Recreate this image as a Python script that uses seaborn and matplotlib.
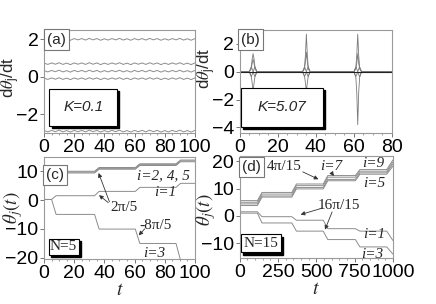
import pandas as pd
import seaborn as sns
import matplotlib.pyplot as plt
from matplotlib.patches import Rectangle

# (a) K=0.1 : nearly constant frequencies with a small ripple
t_a = [0, 2.5, 5, 7.5, 10, 12.5, 15, 17.5, 20, 22.5, 25, 27.5, 30, 32.5, 35, 37.5, 40,
       42.5, 45, 47.5, 50, 52.5, 55, 57.5, 60, 62.5, 65, 67.5, 70, 72.5, 75, 77.5, 80,
       82.5, 85, 87.5, 90, 92.5, 95, 97.5, 100]
ripple_a = [0.03, -0.04, 0.04, -0.03, 0.05, -0.04, 0.03, -0.05, 0.04, -0.03, 0.04, -0.04,
            0.05, -0.03, 0.04, -0.05, 0.03, -0.04, 0.04, -0.03, 0.05, -0.04, 0.03, -0.05,
            0.04, -0.03, 0.04, -0.04, 0.05, -0.03, 0.04, -0.05, 0.03, -0.04, 0.04, -0.03,
            0.05, -0.04, 0.03, -0.05, 0.04]
levels_a = [2.0, 0.7, 0.3, -0.1, -2.9]

# (b) K=5.07 : phase slips show up as spikes
t_b = [0, 5, 6, 6.5, 7, 7.5, 8, 9, 33, 34, 34.5, 35, 35.5, 36, 37, 60, 61, 61.5, 62, 62.5, 63, 64, 80]
b_lines = [
    [0, 0, 0.3, 0.9, 1.3, 0.9, 0.3, 0, 0, 0.3, 1.2, 2.7, 1.2, 0.3, 0, 0, 0.3, 1.2, 2.7, 1.2, 0.3, 0, 0],
    [0, 0, 0.2, 0.6, 0.9, 0.6, 0.2, 0, 0, 0.2, 0.7, 1.4, 0.7, 0.2, 0, 0, 0.2, 0.6, 1.3, 0.6, 0.2, 0, 0],
    [0, 0, -0.3, -0.8, -1.4, -0.8, -0.3, 0, 0, -0.3, -0.8, -1.4, -0.8, -0.3, 0, 0, -0.4, -1.5, -3.8, -1.5, -0.4, 0, 0],
    [0, 0, 0.35, 0.2, 0, -0.2, -0.35, 0, 0, 0.35, 0.2, 0, -0.2, -0.35, 0, 0, 0.35, 0.2, 0, -0.2, -0.35, 0, 0],
    [0, 0, -0.35, -0.2, 0, 0.2, 0.35, 0, 0, -0.35, -0.2, 0, 0.2, 0.35, 0, 0, -0.35, -0.2, 0, 0.2, 0.35, 0, 0],
]

# (c) N=5 phases
t_c = [0, 1.5, 3, 5, 8, 33.5, 36.5, 60.5, 63.5, 87.5, 90.5, 100]
c_lines = [
    [8.6, 8.6, 9.4, 9.4, 9.4, 9.4, 10.7, 10.7, 12.0, 12.0, 13.3, 13.3],
    [8.9, 8.9, 9.7, 9.7, 9.7, 9.7, 11.0, 11.0, 12.3, 12.3, 13.6, 13.6],
    [9.2, 9.2, 10.0, 10.0, 10.0, 10.0, 11.3, 11.3, 12.6, 12.6, 13.9, 13.9],
    [0.2, 0.2, 0.2, 0.2, 1.5, 1.5, 3.0, 3.0, 4.4, 4.4, 5.8, 5.8],
    [0.2, 0.2, 0.2, 0.2, -5.0, -5.0, -10.1, -10.1, -15.1, -15.1, -21.0, -21.0],
]

# (d) N=15 phases
t_d = [0, 115, 145, 340, 370, 545, 575, 755, 785, 960, 1000]
d_plateaus = [
    [5.6, 8.6, 11.7, 14.8, 17.0, 20.5],
    [5.0, 8.0, 11.1, 14.2, 16.4, 19.7],
    [4.4, 7.3, 10.4, 13.4, 15.8, 19.0],
    [3.8, 6.9, 9.9, 12.9, 15.3, 18.2],
    [1.5, -0.3, -1.6, -4.7, -5.6, -9.0],
    [1.0, -2.6, -5.6, -8.7, -11.4, -14.0],
]

sns.set_style("ticks")
plt.rcParams["font.family"] = ["Liberation Sans", "DejaVu Sans"]
plt.rcParams["mathtext.fontset"] = "stix"
plt.rcParams["axes.edgecolor"] = "#9a9a9a"
plt.rcParams["axes.linewidth"] = 0.8
plt.rcParams["xtick.color"] = "#777777"
plt.rcParams["ytick.color"] = "#777777"
plt.rcParams["xtick.labelcolor"] = "black"
plt.rcParams["ytick.labelcolor"] = "black"

GRAY = "#8c8c8c"
SERIF = ["Liberation Serif", "DejaVu Serif"]

fig = plt.figure(figsize=(4.36, 3.04), dpi=100)
ax_a = fig.add_axes([0.101, 0.5625, 0.346, 0.339])
ax_b = fig.add_axes([0.550, 0.5625, 0.349, 0.339])
ax_c = fig.add_axes([0.101, 0.148, 0.346, 0.336])
ax_d = fig.add_axes([0.550, 0.151, 0.351, 0.336])


def draw(ax, t, ys, color=GRAY, lw=0.7):
    for y in ys:
        sns.lineplot(x=t, y=y, ax=ax, color=color, lw=lw, estimator=None, sort=False)


def tag(ax, label, x, y):
    ax.text(x, y, label, transform=ax.transAxes, fontsize=11, ha="left", va="top", zorder=6,
            bbox=dict(boxstyle="square,pad=0.2", fc="white", ec="#777777", lw=0.8))


def shadow_box(ax, x0, y0, w, h, label, **kw):
    ax.add_patch(Rectangle((x0 + 0.015, y0 - 0.025), w, h, transform=ax.transAxes,
                           fc="black", ec="black", zorder=5, clip_on=False))
    ax.add_patch(Rectangle((x0, y0), w, h, transform=ax.transAxes,
                           fc="white", ec="black", lw=0.8, zorder=5.5, clip_on=False))
    ax.text(x0 + w / 2, y0 + h / 2, label, transform=ax.transAxes, ha="center",
            va="center", zorder=6, **kw)


# (a)
draw(ax_a, t_a, [[lv + r for r in ripple_a] for lv in levels_a])
ax_a.set_xlim(0, 100)
ax_a.set_ylim(-3.0, 2.5)
ax_a.set_xticks([0, 20, 40, 60, 80, 100])
ax_a.set_yticks([-2, 0, 2])
tag(ax_a, "(a)", 0.02, 0.975)
shadow_box(ax_a, 0.035, 0.07, 0.45, 0.36, "K=0.1", fontsize=11, style="italic")
ax_a.set_ylabel(r"d$\theta_\mathregular{j}$/dt", fontsize=12)
ax_a.yaxis.set_label_coords(-0.146, 0.54)

# (b)
draw(ax_b, t_b, b_lines, color="#7a7a7a", lw=0.6)
sns.lineplot(x=[0, 80], y=[0, 0], ax=ax_b, color="#222222", lw=0.8)
ax_b.set_xlim(0, 80)
ax_b.set_ylim(-4.4, 3.0)
ax_b.set_xticks([0, 20, 40, 60, 80])
ax_b.set_yticks([-4, -2, 0, 2])
tag(ax_b, "(b)", 0.01, 0.975)
shadow_box(ax_b, 0.005, 0.06, 0.54, 0.38, "K=5.07", fontsize=11, style="italic")
ax_b.set_ylabel(r"d$\theta_\mathregular{j}$/dt", fontsize=12)
ax_b.yaxis.set_label_coords(-0.145, 0.63)

# (c)
draw(ax_c, t_c, c_lines)
ax_c.set_xlim(0, 100)
ax_c.set_ylim(-20.5, 15)
ax_c.set_xticks([0, 20, 40, 60, 80, 100])
ax_c.set_yticks([-20, -10, 0, 10])
tag(ax_c, "(c)", 0.015, 0.89)
shadow_box(ax_c, 0.03, 0.04, 0.2, 0.16, "N=5", fontsize=11, family=SERIF)
ax_c.set_ylabel(r"$\theta_j(t)$", fontsize=13.5)
ax_c.yaxis.set_label_coords(-0.128, 0.5)
ax_c.set_xlabel(r"$t$", fontsize=14, labelpad=0)
ann = dict(fontsize=11, family=SERIF, ha="center", va="center")
ax_c.text(79, 8.3, "i=2, 4, 5", style="italic", **ann)
ax_c.text(80, 2.6, "i=1", style="italic", **ann)
ax_c.text(53, -2.5, "2\u03c0/5", **ann)
ax_c.text(74, -8.8, "-8\u03c0/5", **ann)
ax_c.text(73, -18.5, "i=3", style="italic", **ann)
arrow = dict(arrowstyle="-|>", color="#333333", lw=0.6, mutation_scale=6)
ax_c.annotate("", xy=(35.5, 10.3), xytext=(44, -1.5), arrowprops=arrow)
ax_c.annotate("", xy=(35, 2.3), xytext=(44, -1.5), arrowprops=arrow)
ax_c.annotate("", xy=(61.5, -13), xytext=(68, -9.3), arrowprops=arrow)

# (d)
draw(ax_d, t_d, [[p[0], p[0], p[1], p[1], p[2], p[2], p[3], p[3], p[4], p[4], p[5]] for p in d_plateaus])
ax_d.set_xlim(0, 1000)
ax_d.set_ylim(-15.5, 22)
ax_d.set_xticks([0, 250, 500, 750, 1000])
ax_d.set_yticks([-10, 0, 10, 20])
tag(ax_d, "(d)", 0.015, 0.96)
shadow_box(ax_d, 0.008, 0.06, 0.26, 0.175, "N=15", fontsize=11, family=SERIF)
ax_d.set_ylabel(r"$\theta_j(t)$", fontsize=13.5)
ax_d.yaxis.set_label_coords(-0.14, 0.47)
ax_d.set_xlabel(r"$t$", fontsize=14, labelpad=0)
ax_d.text(290, 18.0, "4\u03c0/15", **ann)
ax_d.text(600, 18.0, "i=7", style="italic", **ann)
ax_d.text(875, 19.2, "i=9", style="italic", **ann)
ax_d.text(880, 12.0, "i=5", style="italic", **ann)
ax_d.text(650, 3.7, "16\u03c0/15", **ann)
ax_d.text(880, -7.0, "i=1", style="italic", **ann)
ax_d.text(865, -14.2, "i=3", style="italic", **ann)
ax_d.annotate("", xy=(530, 13.0), xytext=(395, 16.6), arrowprops=arrow)
ax_d.annotate("", xy=(625, 13.8), xytext=(590, 16.6), arrowprops=arrow)
ax_d.annotate("", xy=(380, 0.2), xytext=(560, 3.2), arrowprops=arrow)
ax_d.annotate("", xy=(550, -6.0), xytext=(610, 2.4), arrowprops=arrow)

for ax in (ax_a, ax_b, ax_c, ax_d):
    ax.tick_params(axis="both", labelsize=14, length=3, width=0.7, pad=1)
    ax.minorticks_on()
    ax.tick_params(which="minor", length=1.5, width=0.5)
    ax.tick_params(axis="y", which="minor", left=False)

fig.savefig("out.png", dpi=100)
